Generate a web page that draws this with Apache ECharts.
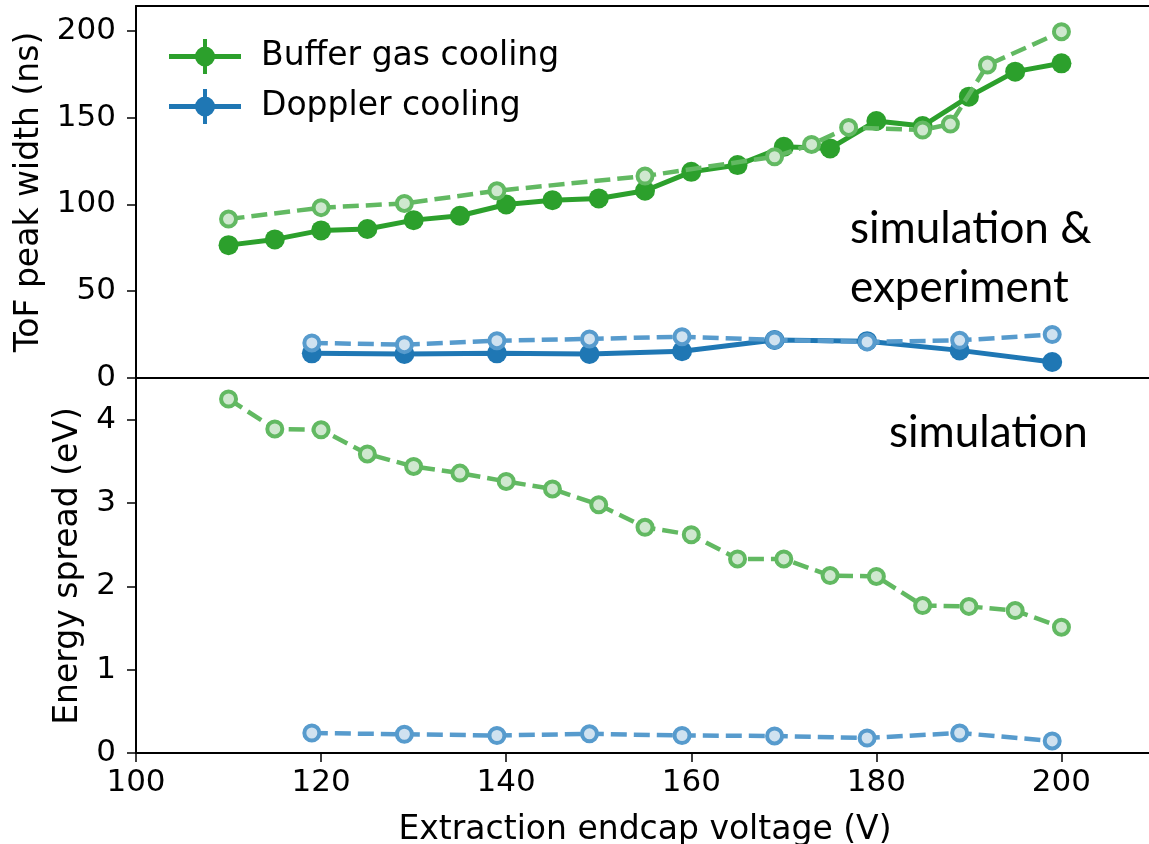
<!DOCTYPE html>
<html>
<head>
<meta charset="utf-8">
<script src="https://cdn.jsdelivr.net/npm/echarts@6/dist/echarts.min.js"></script>
<style>
  html, body { margin: 0; padding: 0; background: #fff; }
  #chart { width: 1149px; height: 844px; }
</style>
</head>
<body>
<div id="chart"></div>
<script>
// top panel: ToF peak width (ns)
const bufferExpX = [110, 115, 120, 125, 130, 135, 140, 145, 150, 155, 160, 165, 170, 175, 180, 185, 190, 195, 200];
const bufferExpY = [76.5, 79.8, 85, 85.8, 90.9, 93.4, 99.9, 102.4, 103.4, 107.8, 118.7, 122.6, 133.1, 132.2, 148, 145.1, 162, 176.4, 181.2];
const bufferSimTopX = [110, 120, 129, 139, 155, 169, 173, 177, 185, 188, 192, 200];
const bufferSimTopY = [91.5, 98.1, 100.5, 107.8, 116.3, 127.4, 134.5, 144.3, 142.8, 146.2, 180.2, 199.4];
const dopplerX = [119, 129, 139, 149, 159, 169, 179, 189, 199];
const dopplerExpY = [14.2, 13.8, 14.2, 13.8, 15.4, 21.9, 21.2, 15.9, 9.2];
const dopplerSimTopY = [20.2, 19.2, 21.5, 22.5, 23.8, 21.9, 20.8, 21.7, 25.0];

// bottom panel: energy spread (eV)
const bufferSimBotX = [110, 115, 120, 125, 130, 135, 140, 145, 150, 155, 160, 165, 170, 175, 180, 185, 190, 195, 200];
const bufferSimBotY = [4.25, 3.89, 3.88, 3.59, 3.44, 3.36, 3.26, 3.17, 2.98, 2.71, 2.62, 2.33, 2.33, 2.13, 2.12, 1.77, 1.76, 1.71, 1.51];
const dopplerSimBotY = [0.24, 0.225, 0.21, 0.23, 0.21, 0.205, 0.18, 0.24, 0.145];

const xTicks = [100, 120, 140, 160, 180, 200];
const topTicks = [0, 50, 100, 150, 200];
const botTicks = [0, 1, 2, 3, 4];

const pairs = (xs, ys) => xs.map((x, i) => [x, ys[i]]);

const GREEN = '#2ca02c';
const BLUE = '#1f77b4';
const GREEN_LIGHT = '#62b962';
const BLUE_LIGHT = '#579bcd';
const font = 'DejaVu Sans';

// errorbar-style legend glyph: line + dot + vertical bar
const legendIcon = 'path://M0 15h72v5H0z M34 0h4v35h-4z M26 17.5a10 10 0 1 1 20 0a10 10 0 1 1 -20 0z';

function solid(name, xs, ys, color, axis) {
  return {
    name: name,
    type: 'line',
    xAxisIndex: axis,
    yAxisIndex: axis,
    data: pairs(xs, ys),
    symbol: 'circle',
    symbolSize: 20,
    lineStyle: { color: color, width: 5 },
    itemStyle: { color: color },
    z: 2
  };
}

function dashed(name, xs, ys, color, fill, axis) {
  return {
    name: name,
    type: 'line',
    xAxisIndex: axis,
    yAxisIndex: axis,
    data: pairs(xs, ys),
    symbol: 'circle',
    symbolSize: 15,
    lineStyle: { color: color, width: 4.5, type: [16, 7] },
    itemStyle: { color: fill, borderColor: color, borderWidth: 4 },
    z: 3
  };
}

const tickStyle = { show: true, inside: false, length: 9, lineStyle: { color: '#000', width: 1.5 } };
const lineStyle = { show: true, lineStyle: { color: '#000', width: 2 } };
const noMarks = { axisTick: { show: false }, axisLabel: { show: false }, splitLine: { show: false } };

const chart = echarts.init(document.getElementById('chart'));
chart.setOption({
  animation: false,
  backgroundColor: '#fff',
  grid: [
    { left: 136, top: 6, width: 1018, height: 372, outerBoundsMode: 'none', containLabel: false },
    { left: 136, top: 379, width: 1018, height: 374, outerBoundsMode: 'none', containLabel: false }
  ],
  legend: {
    data: ['Buffer gas cooling', 'Doppler cooling'],
    orient: 'vertical',
    left: 164,
    top: 34,
    itemWidth: 72,
    itemHeight: 35,
    itemGap: 15,
    icon: legendIcon,
    selectedMode: false,
    textStyle: { fontFamily: font, fontSize: 33, color: '#000', padding: [0, 0, 0, 15] }
  },
  xAxis: [
    Object.assign({ gridIndex: 0, type: 'value', min: 100, max: 210, interval: 20, axisLine: lineStyle }, noMarks),
    // frame line along the top of the upper panel
    Object.assign({ gridIndex: 0, type: 'value', position: 'top', min: 100, max: 210, interval: 20, axisLine: lineStyle }, noMarks),
    {
      gridIndex: 1, type: 'value', min: 100, max: 210, interval: 20,
      name: 'Extraction endcap voltage (V)', nameLocation: 'middle', nameGap: 61,
      nameTextStyle: { fontFamily: font, fontSize: 33, color: '#000' },
      axisLine: lineStyle,
      axisTick: Object.assign({ customValues: xTicks }, tickStyle),
      axisLabel: { customValues: xTicks, fontFamily: font, fontSize: 31, color: '#000', margin: 14 },
      splitLine: { show: false }
    }
  ],
  yAxis: [
    {
      gridIndex: 0, type: 'value', min: 0, max: 214.2, interval: 50,
      name: 'ToF peak width (ns)', nameLocation: 'middle', nameGap: 87,
      nameTextStyle: { fontFamily: font, fontSize: 33, color: '#000' },
      axisLine: lineStyle,
      axisTick: Object.assign({ customValues: topTicks }, tickStyle),
      axisLabel: { customValues: topTicks, fontFamily: font, fontSize: 31, color: '#000', margin: 20 },
      splitLine: { show: false }
    },
    {
      gridIndex: 1, type: 'value', min: 0, max: 4.49, interval: 1,
      name: 'Energy spread (eV)', nameLocation: 'middle', nameGap: 49,
      nameTextStyle: { fontFamily: font, fontSize: 33, color: '#000' },
      axisLine: lineStyle,
      axisTick: Object.assign({ customValues: botTicks }, tickStyle),
      axisLabel: { customValues: botTicks, fontFamily: font, fontSize: 31, color: '#000', margin: 20 },
      splitLine: { show: false }
    }
  ],
  graphic: [
    {
      type: 'text', left: 850, top: 199, z: 10,
      style: { text: 'simulation &\nexperiment', font: '44px Lato', lineHeight: 59, fill: '#000' }
    },
    {
      type: 'text', left: 889, top: 403, z: 10,
      style: { text: 'simulation', font: '44px Lato', lineHeight: 59, fill: '#000' }
    }
  ],
  series: [
    solid('Buffer gas cooling', bufferExpX, bufferExpY, GREEN, 0),
    dashed('Buffer gas simulation', bufferSimTopX, bufferSimTopY, GREEN_LIGHT, '#cfe8cf', 0),
    solid('Doppler cooling', dopplerX, dopplerExpY, BLUE, 0),
    dashed('Doppler simulation', dopplerX, dopplerSimTopY, BLUE_LIGHT, '#d0e2f0', 0),
    Object.assign(dashed('Buffer gas energy', bufferSimBotX, bufferSimBotY, GREEN_LIGHT, '#cfe8cf', 1), { xAxisIndex: 2 }),
    Object.assign(dashed('Doppler energy', dopplerX, dopplerSimBotY, BLUE_LIGHT, '#d0e2f0', 1), { xAxisIndex: 2 })
  ]
});
</script>
</body>
</html>
